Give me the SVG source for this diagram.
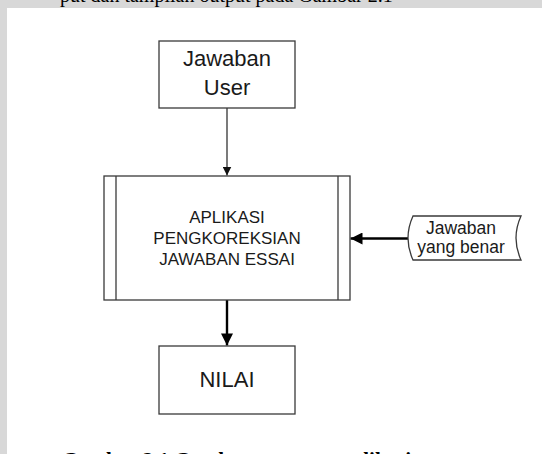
<svg xmlns="http://www.w3.org/2000/svg" width="542" height="454" viewBox="0 0 542 454">
  <style>
    .box { fill: #ffffff; stroke: #3a3a3a; stroke-width: 1.3; }
    .lbl { font-family: "Liberation Sans", Arial, sans-serif; fill: #1a1a1a; text-anchor: middle; }
    .thin { stroke: #222; stroke-width: 1.2; fill: none; }
    .thick { stroke: #000; stroke-width: 2.4; fill: none; }
    .page { font-family: "Liberation Serif", "Times New Roman", serif; fill: #000; }
  </style>
  <defs>
    <marker id="headSmall" viewBox="0 0 10 10" refX="10" refY="5" markerUnits="userSpaceOnUse" markerWidth="9" markerHeight="9" orient="auto">
      <path d="M0,0 L10,5 L0,10 Z" fill="#111"/>
    </marker>
    <marker id="headBig" viewBox="0 0 10 10" refX="10" refY="5" markerUnits="userSpaceOnUse" markerWidth="13" markerHeight="12" orient="auto">
      <path d="M0,0 L10,5 L0,10 Z" fill="#000"/>
    </marker>
  </defs>

  <!-- grey margin with the end of the preceding line of body text -->
  <rect x="0" y="0" width="542" height="454" fill="#d8d8d8"/>
  <text class="page" x="60" y="2" font-size="20">put dan tampilan output pada Gambar 2.1</text>

  <!-- white figure area -->
  <rect x="7" y="8" width="535" height="446" fill="#ffffff"/>

  <!-- figure caption -->
  <text class="page" x="62" y="467" font-size="21" font-weight="bold">Gambar 2.1  Gambaran umum aplikasi</text>

  <!-- connectors -->
  <g id="connectors">
    <line class="thin" x1="227" y1="108" x2="227" y2="175.5" marker-end="url(#headSmall)"/>
    <line class="thick" x1="227" y1="300" x2="227" y2="345.5" marker-end="url(#headBig)"/>
    <line class="thick" x1="408" y1="238.5" x2="350.5" y2="238.5" marker-end="url(#headBig)"/>
  </g>

  <g id="jawaban-user">
    <rect class="box" x="159" y="41" width="136" height="67"/>
    <text class="lbl" x="227" y="66" font-size="22">Jawaban</text>
    <text class="lbl" x="227" y="95" font-size="22">User</text>
  </g>

  <g id="aplikasi">
    <rect class="box" x="104" y="176" width="246" height="124"/>
    <line x1="116" y1="176" x2="116" y2="300" stroke="#3a3a3a" stroke-width="1.3"/>
    <line x1="338" y1="176" x2="338" y2="300" stroke="#3a3a3a" stroke-width="1.3"/>
    <text class="lbl" x="227" y="223" font-size="17">APLIKASI</text>
    <text class="lbl" x="227" y="244" font-size="17">PENGKOREKSIAN</text>
    <text class="lbl" x="227" y="265" font-size="17">JAWABAN ESSAI</text>
  </g>

  <g id="jawaban-benar">
    <path class="box" d="M413,216 L521,216 Q511,238 521,260 L413,260 Q403,238 413,216 Z"/>
    <text class="lbl" x="461" y="234" font-size="17.5">Jawaban</text>
    <text class="lbl" x="461" y="253" font-size="17.5">yang benar</text>
  </g>

  <g id="nilai">
    <rect class="box" x="159" y="346" width="136" height="68"/>
    <text class="lbl" x="227" y="387" font-size="22">NILAI</text>
  </g>
</svg>
